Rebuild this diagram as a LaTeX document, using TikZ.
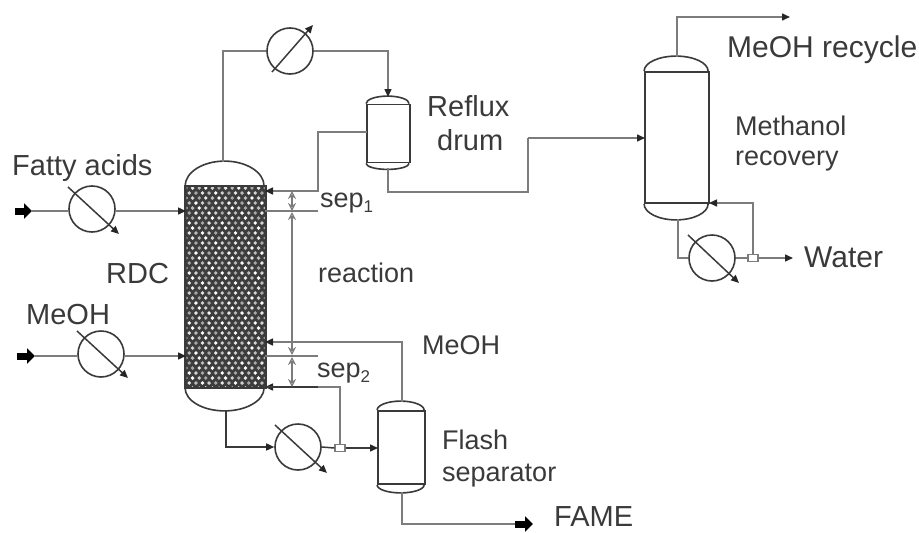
\documentclass[tikz,border=0pt]{standalone}
\usepackage{fontspec}
\setmainfont{Liberation Sans}
\usetikzlibrary{arrows.meta,calc}
\definecolor{ink}{HTML}{3A3A3A}
\definecolor{pipecol}{HTML}{7C7C7C}
\tikzset{
  x=1pt,y=-1pt,
  pipe/.style={draw=pipecol,line width=1.5pt},
  flow/.style={pipe,-{Triangle[length=8pt,width=7pt,color=black!85]}},
  dim/.style={draw=pipecol,line width=1.2pt,{Stealth[open,length=8pt,width=8pt]}-{Stealth[open,length=8pt,width=8pt]}},
  feed/.style={line width=7pt,draw=black,-{Triangle[length=8pt,width=15pt,color=black]}},
  hx/.style={circle,draw=ink,line width=1.6pt,minimum size=46pt,inner sep=0pt},
  hxarrow/.style={draw=ink,line width=1.5pt,-{Triangle[length=8pt,width=7pt,color=black!85]}},
  vessel/.style={rectangle,draw=ink,line width=1.8pt,inner sep=0pt},
  dome/.style={draw=ink,line width=1.6pt},
  tee/.style={rectangle,draw=pipecol,line width=1.1pt,fill=white,minimum width=10pt,minimum height=7pt,inner sep=0pt},
  lab/.style={anchor=base west,inner sep=0pt,text=ink,font=\fontsize{29}{29}\selectfont},
  labs/.style={anchor=base west,inner sep=0pt,text=ink,font=\fontsize{27}{27}\selectfont},
}
\newcommand{\subnum}[1]{\raisebox{-0.22em}{\fontsize{17}{17}\selectfont #1}}
\begin{document}
\begin{tikzpicture}
\useasboundingbox (0,0) rectangle (919,533);
% vessels
\node[vessel,fill=black!76,minimum width=79pt,minimum height=200pt] (rdc) at (225.5,287) {};
\begin{scope}
  \clip (186.5,187.5) rectangle (264.5,386.5);
  \foreach \r in {0,...,40}{
    \pgfmathsetmacro{\off}{mod(\r,2)*3.3}
    \foreach \c in {0,...,12}{
      \pgfmathsetmacro{\gv}{55+mod(\r*7+\c*13,5)*11}
      \fill[white!\gv!black!76] ({186+\off+\c*6.6},{188+\r*5}) circle[radius=1.9pt];
    }
  }
\end{scope}
\draw[ink,line width=1.8pt] (rdc.north west) rectangle (rdc.south east);
\draw[dome] (rdc.north west) arc[start angle=180,end angle=0,x radius=39.5pt,y radius=25pt];
\draw[dome] (rdc.south west) arc[start angle=180,end angle=360,x radius=39.5pt,y radius=23pt];

\node[vessel,minimum width=43pt,minimum height=58pt] (drum) at (388.5,133.5) {};
\draw[dome] (drum.north west) arc[start angle=180,end angle=0,x radius=21.5pt,y radius=7.5pt];
\draw[dome] (drum.south west) arc[start angle=180,end angle=360,x radius=21.5pt,y radius=6pt];

\node[vessel,minimum width=64pt,minimum height=131pt] (rec) at (677,137.5) {};
\draw[dome] (rec.north west) arc[start angle=180,end angle=0,x radius=32pt,y radius=15pt];
\draw[dome] (rec.south west) arc[start angle=180,end angle=360,x radius=32pt,y radius=16pt];

\node[vessel,minimum width=47pt,minimum height=73pt] (flash) at (401.5,447.5) {};
\draw[dome] (flash.north west) arc[start angle=180,end angle=0,x radius=23.5pt,y radius=9pt];
\draw[dome] (flash.south west) arc[start angle=180,end angle=360,x radius=23.5pt,y radius=8pt];

% heat exchangers
\node[hx] (hxfa) at (92,209) {};
\node[hx] (hxme) at (101,354) {};
\node[hx] (hxtop) at (290,51) {};
\node[hx] (hxbot) at (298,447) {};
\node[hx] (hxrec) at (712,258) {};
\draw[hxarrow] ($(hxfa)+(-24,-22)$) -- ($(hxfa)+(27,25)$);
\draw[hxarrow] ($(hxme)+(-24,-23)$) -- ($(hxme)+(27,24)$);
\draw[hxarrow] ($(hxtop)+(-18,21)$) -- ($(hxtop)+(23,-26)$);
\draw[hxarrow] ($(hxbot)+(-23,-22)$) -- ($(hxbot)+(29,26)$);
\draw[hxarrow] ($(hxrec)+(-24,-23)$) -- ($(hxrec)+(27,25)$);

% tees
\node[tee] (teebot) at (340,448) {};
\node[tee] (teerec) at (753,258) {};

% named points
\coordinate (fain) at (15,211);
\coordinate (faend) at (32,211);
\coordinate (meinn) at (17,356);
\coordinate (meend) at (35,356);
\coordinate (rdcfa) at (186,211);
\coordinate (rdcme) at (186,356);
\coordinate (rdctop) at (223,162);
\coordinate (rdcbot) at (226,410);
\coordinate (rdcr1) at (265,191);
\coordinate (rdcsep1) at (265,211);
\coordinate (rdcr2) at (265,342);
\coordinate (rdcsep2) at (265,356);
\coordinate (rdcr3) at (265,387);
\coordinate (sep1end) at (318,211);
\coordinate (sep2end) at (318,356);
\coordinate (sep3end) at (318,387);
\coordinate (drumtop) at (388,97);
\coordinate (drumbot) at (388,168);
\coordinate (drumleft) at (367,132);
\coordinate (refbend) at (318,191);
\coordinate (drumlow) at (388,192);
\coordinate (midbend) at (528,192);
\coordinate (midup) at (528,138);
\coordinate (recin) at (645,138);
\coordinate (rectop) at (677,57);
\coordinate (recout) at (790,17);
\coordinate (recbot) at (678,219);
\coordinate (recret) at (709,203);
\coordinate (waterend) at (793,258);
\coordinate (flashtop) at (402,402);
\coordinate (flashbot) at (402,492);
\coordinate (flashin) at (378,448);
\coordinate (famebend) at (402,524);
\coordinate (famestart) at (515,524);
\coordinate (fameend) at (533,524);
\coordinate (da) at (292,191);
\coordinate (db) at (292,211);
\coordinate (dc) at (292,212);
\coordinate (dd) at (292,355);
\coordinate (de) at (292,357);
\coordinate (df) at (292,387);

% connectors
\draw[feed] (fain) -- (faend);
\draw[feed] (meinn) -- (meend);
\draw[pipe] (faend) -- (hxfa.west |- faend);
\draw[pipe] (meend) -- (hxme.west |- meend);
\draw[flow] (hxfa.east |- rdcfa) -- (rdcfa);
\draw[flow] (hxme.east |- rdcme) -- (rdcme);
\draw[pipe] (rdctop) |- (hxtop.west);
\draw[flow] (hxtop.east) -| (drumtop);
\draw[flow] (drumleft) -| (refbend) -- (rdcr1);
\draw[pipe] (drumbot) -- (drumlow) -- (midbend) -- (midup);
\draw[flow] (midup) -- (recin);
\draw[flow] (rectop) |- (recout);
\draw[pipe] (recbot) |- (hxrec.west);
\draw[pipe] (hxrec.east) -- (teerec.west);
\draw[flow] (teerec.north) |- (recret);
\draw[flow] (teerec.east) -- (waterend);
\draw[flow] (flashtop) |- (rdcr2);
\draw[flow] (teebot.north) |- (rdcr3);
\draw[draw=ink,line width=2.2pt] (rdcr3) -- (sep3end);
\draw[flow,draw=ink] (rdcbot) |- (hxbot.west);
\draw[pipe,draw=ink] (hxbot.east) -- (teebot.west);
\draw[flow,draw=ink] (teebot.east) -- (flashin);
\draw[pipe] (flashbot) -- (famebend) -- (famestart);
\draw[feed] (famestart) -- (fameend);
\draw[pipe,line width=1.1pt] (rdcsep1) -- (sep1end);
\draw[pipe,line width=1.1pt] (rdcsep2) -- (sep2end);
\draw[dim] (da) -- (db);
\draw[dim] (dc) -- (dd);
\draw[dim] (de) -- (df);

% labels
\node[lab] (lfa) at (12,175) {Fatty acids};
\node[lab] (lrdc) at (106,283) {RDC};
\node[lab] (lme) at (26,324) {MeOH};
\node[labs] (lsep1) at (320,207) {sep\subnum{1}};
\node[labs] (lsep2) at (317,377) {sep\subnum{2}};
\node[labs] (lreac) at (318,282) {reaction};
\node[labs] (lme2) at (422,354) {MeOH};
\node[lab] (lref) at (427,116) {Reflux};
\node[lab] (ldrum) at (437,150) {drum};
\node[lab,font=\fontsize{30}{30}\selectfont] (lrecy) at (727,57) {MeOH recycle};
\node[labs] (lmeth) at (735,135) {Methanol};
\node[labs] (lreco) at (735,165) {recovery};
\node[lab,font=\fontsize{30}{30}\selectfont] (lwater) at (804,267) {Water};
\node[labs] (lflash) at (442,449) {Flash};
\node[labs] (lsepa) at (442,481) {separator};
\node[lab] (lfame) at (554,526) {FAME};
\end{tikzpicture}
\end{document}
